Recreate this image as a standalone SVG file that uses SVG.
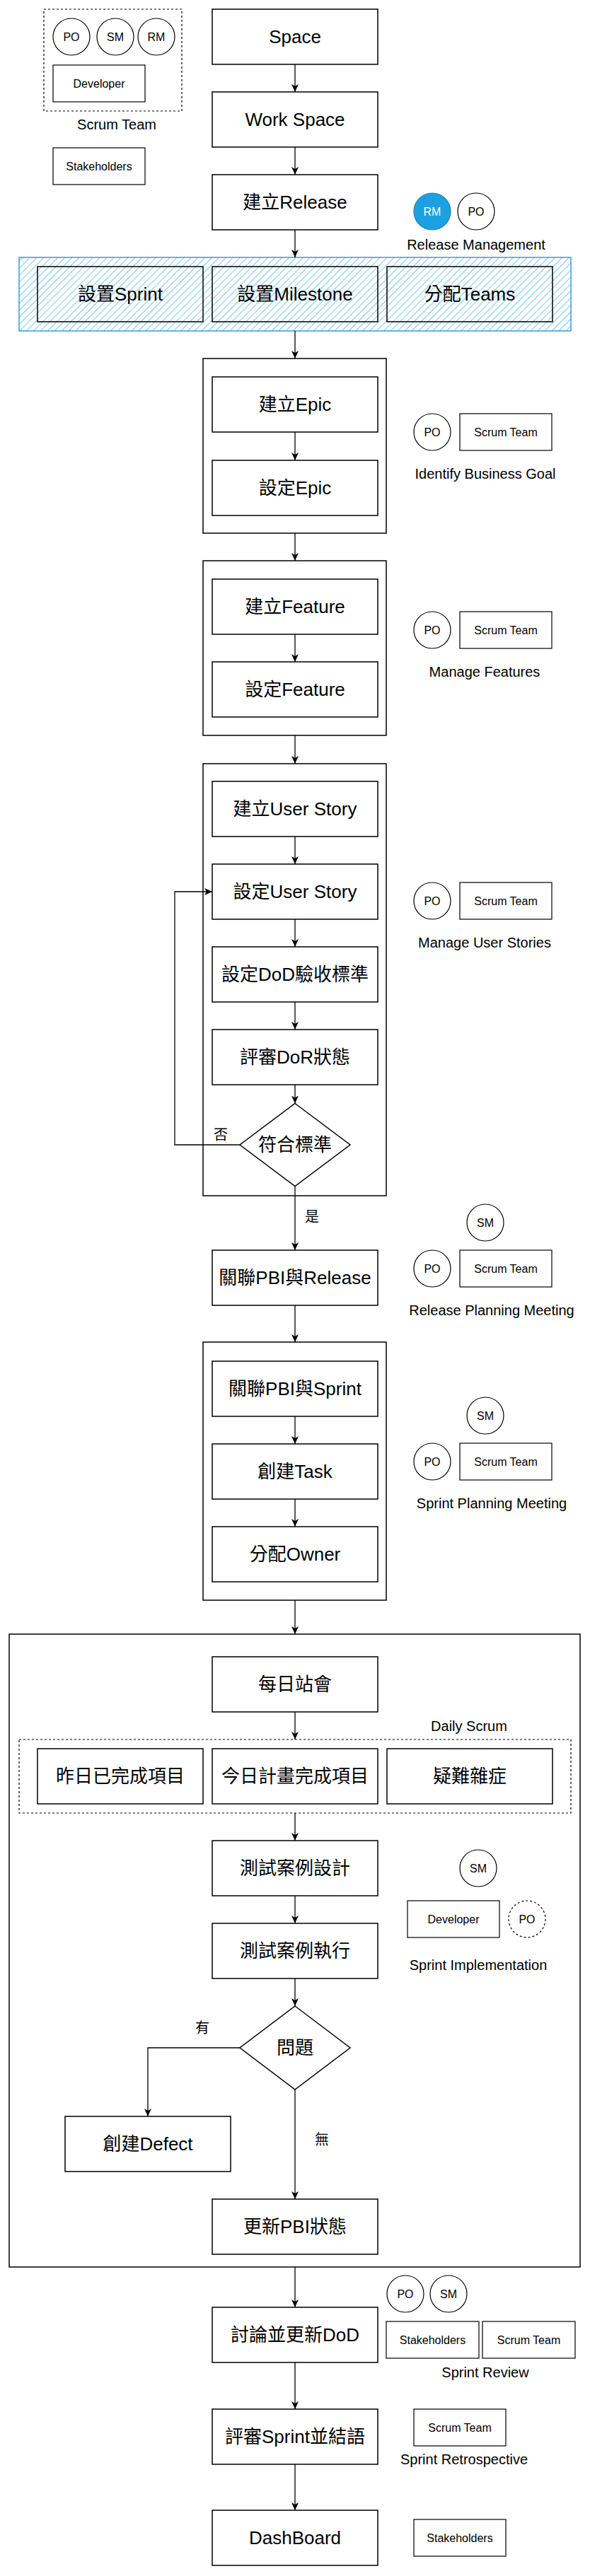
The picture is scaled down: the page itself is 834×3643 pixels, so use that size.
<svg xmlns="http://www.w3.org/2000/svg" width="834" height="3643" viewBox="0 0 834 3643">
<defs>
<marker id="arr" markerWidth="12" markerHeight="10" refX="11" refY="5" orient="auto" markerUnits="userSpaceOnUse">
<path d="M0,0 L11,5 L0,10 L3,5 Z" fill="#000"/>
</marker>
<pattern id="hatch" patternUnits="userSpaceOnUse" width="7" height="7" patternTransform="rotate(45)">
<line x1="0" y1="0" x2="0" y2="7" stroke="#1BA1E2" stroke-width="1.2"/>
</pattern>
<style>
.b{fill:#fff;stroke:#000;stroke-width:1.5}
.o{fill:none;stroke:#000;stroke-width:1.5}
.c{fill:#fff;stroke:#000;stroke-width:1.2}
.s{fill:#fff;stroke:#000;stroke-width:1.2}
.dash{fill:none;stroke:#000;stroke-width:1.2;stroke-dasharray:3 3}
.t{font-family:"Liberation Sans","Noto Sans CJK TC",Arial,sans-serif;font-size:26px;text-anchor:middle;fill:#000}
.m{font-family:"Liberation Sans","Noto Sans CJK TC",Arial,sans-serif;font-size:16px;text-anchor:middle;fill:#000}
.l{font-family:"Liberation Sans","Noto Sans CJK TC",Arial,sans-serif;font-size:20px;text-anchor:middle;fill:#000}
.e{fill:none;stroke:#000;stroke-width:1.3}
</style>
</defs>

<!-- Legend -->
<g id="scrum-team-legend">
<rect class="dash" x="62" y="13" width="195" height="144"/>
<circle class="c" cx="101" cy="52" r="26"/><text class="m" x="101" y="58">PO</text>
<circle class="c" cx="163" cy="52" r="26"/><text class="m" x="163" y="58">SM</text>
<circle class="c" cx="221" cy="52" r="26"/><text class="m" x="221" y="58">RM</text>
<rect class="s" x="75" y="92" width="130" height="52"/><text class="m" x="140" y="124">Developer</text>
<text class="l" x="165" y="183">Scrum Team</text>
</g>
<g id="stakeholders-legend">
<rect class="s" x="75" y="209" width="130" height="52"/><text class="m" x="140" y="241">Stakeholders</text>
</g>

<!-- Containers -->
<g id="release-setup">
<rect x="27" y="364" width="780" height="104" fill="url(#hatch)" stroke="#1B8FD0" stroke-width="1.3"/>
<rect class="o" x="53" y="377" width="234" height="78"/><text class="t" x="170" y="425">設置Sprint</text>
<rect class="o" x="300" y="377" width="234" height="78"/><text class="t" x="417" y="425">設置Milestone</text>
<rect class="o" x="547" y="377" width="234" height="78"/><text class="t" x="664" y="425">分配Teams</text>
</g>
<g id="epic-group"><rect class="o" x="287" y="507" width="259" height="247" stroke-width="1.2"/></g>
<g id="feature-group"><rect class="o" x="287" y="793" width="259" height="247" stroke-width="1.2"/></g>
<g id="story-group"><rect class="o" x="287" y="1080" width="259" height="611" stroke-width="1.2"/></g>
<g id="sprint-group"><rect class="o" x="287" y="1898" width="259" height="365" stroke-width="1.2"/></g>
<g id="implementation-group"><rect class="o" x="13" y="2311" width="807" height="895" stroke-width="1.5" stroke="#222"/></g>
<g id="daily-scrum-group">
<rect class="dash" x="27" y="2460" width="780" height="104"/>
<text class="l" x="663" y="2448">Daily Scrum</text>
</g>

<!-- Main nodes -->
<g id="space"><rect class="b" x="300" y="13" width="234" height="78"/><text class="t" x="417" y="61">Space</text></g>
<g id="workspace"><rect class="b" x="300" y="130" width="234" height="78"/><text class="t" x="417" y="178">Work Space</text></g>
<g id="create-release"><rect class="b" x="300" y="247" width="234" height="78"/><text class="t" x="417" y="295">建立Release</text></g>
<g id="create-epic"><rect class="b" x="300" y="533" width="234" height="78"/><text class="t" x="417" y="581">建立Epic</text></g>
<g id="set-epic"><rect class="b" x="300" y="651" width="234" height="78"/><text class="t" x="417" y="699">設定Epic</text></g>
<g id="create-feature"><rect class="b" x="300" y="819" width="234" height="78"/><text class="t" x="417" y="867">建立Feature</text></g>
<g id="set-feature"><rect class="b" x="300" y="936" width="234" height="78"/><text class="t" x="417" y="984">設定Feature</text></g>
<g id="create-story"><rect class="b" x="300" y="1105" width="234" height="78"/><text class="t" x="417" y="1153">建立User Story</text></g>
<g id="set-story"><rect class="b" x="300" y="1222" width="234" height="78"/><text class="t" x="417" y="1270">設定User Story</text></g>
<g id="set-dod"><rect class="b" x="300" y="1339" width="234" height="78"/><text class="t" x="417" y="1387">設定DoD驗收標準</text></g>
<g id="review-dor"><rect class="b" x="300" y="1456" width="234" height="78"/><text class="t" x="417" y="1504">評審DoR狀態</text></g>
<g id="meets-criteria"><polygon class="b" points="417,1560.5 495,1619 417,1677.5 339,1619"/><text class="t" x="417" y="1628">符合標準</text></g>
<g id="link-release"><rect class="b" x="300" y="1768" width="234" height="78"/><text class="t" x="417" y="1816">關聯PBI與Release</text></g>
<g id="link-sprint"><rect class="b" x="300" y="1925" width="234" height="78"/><text class="t" x="417" y="1973">關聯PBI與Sprint</text></g>
<g id="create-task"><rect class="b" x="300" y="2042" width="234" height="78"/><text class="t" x="417" y="2090">創建Task</text></g>
<g id="assign-owner"><rect class="b" x="300" y="2159" width="234" height="78"/><text class="t" x="417" y="2207">分配Owner</text></g>
<g id="daily-standup"><rect class="b" x="300" y="2343" width="234" height="78"/><text class="t" x="417" y="2391">每日站會</text></g>
<g id="yesterday"><rect class="b" x="53" y="2473" width="234" height="78"/><text class="t" x="170" y="2521">昨日已完成項目</text></g>
<g id="today"><rect class="b" x="300" y="2473" width="234" height="78"/><text class="t" x="417" y="2521">今日計畫完成項目</text></g>
<g id="issues"><rect class="b" x="547" y="2473" width="234" height="78"/><text class="t" x="664" y="2521">疑難雜症</text></g>
<g id="test-design"><rect class="b" x="300" y="2603" width="234" height="78"/><text class="t" x="417" y="2651">測試案例設計</text></g>
<g id="test-exec"><rect class="b" x="300" y="2720" width="234" height="78"/><text class="t" x="417" y="2768">測試案例執行</text></g>
<g id="problem"><polygon class="b" points="417,2837 495,2896 417,2955 339,2896"/><text class="t" x="417" y="2905">問題</text></g>
<g id="create-defect"><rect class="b" x="92" y="2993" width="234" height="78"/><text class="t" x="209" y="3041">創建Defect</text></g>
<g id="update-pbi"><rect class="b" x="300" y="3110" width="234" height="78"/><text class="t" x="417" y="3158">更新PBI狀態</text></g>
<g id="update-dod"><rect class="b" x="300" y="3263" width="234" height="78"/><text class="t" x="417" y="3311">討論並更新DoD</text></g>
<g id="retro"><rect class="b" x="300" y="3407" width="234" height="78"/><text class="t" x="417" y="3455">評審Sprint並結語</text></g>
<g id="dashboard"><rect class="b" x="300" y="3550" width="234" height="78"/><text class="t" x="417" y="3598">DashBoard</text></g>

<!-- Role annotations -->
<g id="release-management">
<circle cx="611" cy="299" r="26" fill="#1BA1E2" stroke="#1780C0" stroke-width="1.2"/><text class="m" x="611" y="305" fill="#fff" style="fill:#fff">RM</text>
<circle class="c" cx="673" cy="299" r="26"/><text class="m" x="673" y="305">PO</text>
<text class="l" x="673" y="353">Release Management</text>
</g>
<g id="identify-goal">
<circle class="c" cx="611" cy="611" r="26"/><text class="m" x="611" y="617">PO</text>
<rect class="s" x="650" y="585" width="130" height="52"/><text class="m" x="715" y="617">Scrum Team</text>
<text class="l" x="686" y="677">Identify Business Goal</text>
</g>
<g id="manage-features">
<circle class="c" cx="611" cy="891" r="26"/><text class="m" x="611" y="897">PO</text>
<rect class="s" x="650" y="865" width="130" height="52"/><text class="m" x="715" y="897">Scrum Team</text>
<text class="l" x="685" y="957">Manage Features</text>
</g>
<g id="manage-stories">
<circle class="c" cx="611" cy="1274" r="26"/><text class="m" x="611" y="1280">PO</text>
<rect class="s" x="650" y="1248" width="130" height="52"/><text class="m" x="715" y="1280">Scrum Team</text>
<text class="l" x="685" y="1340">Manage User Stories</text>
</g>
<g id="release-planning">
<circle class="c" cx="686" cy="1729" r="26"/><text class="m" x="686" y="1735">SM</text>
<circle class="c" cx="611" cy="1794" r="26"/><text class="m" x="611" y="1800">PO</text>
<rect class="s" x="650" y="1768" width="130" height="52"/><text class="m" x="715" y="1800">Scrum Team</text>
<text class="l" x="695" y="1860">Release Planning Meeting</text>
</g>
<g id="sprint-planning">
<circle class="c" cx="686" cy="2002" r="26"/><text class="m" x="686" y="2008">SM</text>
<circle class="c" cx="611" cy="2067" r="26"/><text class="m" x="611" y="2073">PO</text>
<rect class="s" x="650" y="2041" width="130" height="52"/><text class="m" x="715" y="2073">Scrum Team</text>
<text class="l" x="695" y="2133">Sprint Planning Meeting</text>
</g>
<g id="sprint-implementation">
<circle class="c" cx="676" cy="2642" r="26"/><text class="m" x="676" y="2648">SM</text>
<rect class="s" x="576" y="2688" width="130" height="52"/><text class="m" x="641" y="2720">Developer</text>
<circle cx="745" cy="2714" r="26" fill="#fff" stroke="#000" stroke-width="1.2" stroke-dasharray="3 3"/><text class="m" x="745" y="2720">PO</text>
<text class="l" x="676" y="2786">Sprint Implementation</text>
</g>
<g id="sprint-review">
<circle class="c" cx="573" cy="3244" r="26"/><text class="m" x="573" y="3250">PO</text>
<circle class="c" cx="634" cy="3244" r="26"/><text class="m" x="634" y="3250">SM</text>
<rect class="s" x="546" y="3283" width="131" height="52"/><text class="m" x="611.5" y="3315">Stakeholders</text>
<rect class="s" x="682" y="3283" width="131" height="52"/><text class="m" x="747.5" y="3315">Scrum Team</text>
<text class="l" x="686" y="3362">Sprint Review</text>
</g>
<g id="sprint-retrospective">
<rect class="s" x="585" y="3407" width="130" height="52"/><text class="m" x="650" y="3439">Scrum Team</text>
<text class="l" x="656" y="3485">Sprint Retrospective</text>
</g>
<g id="dashboard-audience">
<rect class="s" x="585" y="3563" width="130" height="52"/><text class="m" x="650" y="3595">Stakeholders</text>
</g>

<!-- Connectors -->
<g id="connectors">
<line class="e" x1="417" y1="91" x2="417" y2="130" marker-end="url(#arr)"/>
<line class="e" x1="417" y1="208" x2="417" y2="247" marker-end="url(#arr)"/>
<line class="e" x1="417" y1="325" x2="417" y2="364" marker-end="url(#arr)"/>
<line class="e" x1="417" y1="468" x2="417" y2="507" marker-end="url(#arr)"/>
<line class="e" x1="417" y1="611" x2="417" y2="651" marker-end="url(#arr)"/>
<line class="e" x1="417" y1="754" x2="417" y2="793" marker-end="url(#arr)"/>
<line class="e" x1="417" y1="897" x2="417" y2="936" marker-end="url(#arr)"/>
<line class="e" x1="417" y1="1040" x2="417" y2="1080" marker-end="url(#arr)"/>
<line class="e" x1="417" y1="1183" x2="417" y2="1222" marker-end="url(#arr)"/>
<line class="e" x1="417" y1="1300" x2="417" y2="1339" marker-end="url(#arr)"/>
<line class="e" x1="417" y1="1417" x2="417" y2="1456" marker-end="url(#arr)"/>
<line class="e" x1="417" y1="1534" x2="417" y2="1560.5" marker-end="url(#arr)"/>
<polyline class="e" points="339,1619 247,1619 247,1261 300,1261" marker-end="url(#arr)"/>
<text class="l" x="312" y="1612">否</text>
<line class="e" x1="417" y1="1677.5" x2="417" y2="1768" marker-end="url(#arr)"/>
<text class="l" x="441" y="1728">是</text>
<line class="e" x1="417" y1="1846" x2="417" y2="1898" marker-end="url(#arr)"/>
<line class="e" x1="417" y1="2003" x2="417" y2="2042" marker-end="url(#arr)"/>
<line class="e" x1="417" y1="2120" x2="417" y2="2159" marker-end="url(#arr)"/>
<line class="e" x1="417" y1="2263" x2="417" y2="2311" marker-end="url(#arr)"/>
<line class="e" x1="417" y1="2421" x2="417" y2="2460" marker-end="url(#arr)"/>
<line class="e" x1="417" y1="2564" x2="417" y2="2603" marker-end="url(#arr)"/>
<line class="e" x1="417" y1="2681" x2="417" y2="2720" marker-end="url(#arr)"/>
<line class="e" x1="417" y1="2798" x2="417" y2="2837" marker-end="url(#arr)"/>
<polyline class="e" points="339,2896 209,2896 209,2993" marker-end="url(#arr)"/>
<text class="l" x="286" y="2875">有</text>
<line class="e" x1="417" y1="2955" x2="417" y2="3110" marker-end="url(#arr)"/>
<text class="l" x="455" y="3033">無</text>
<line class="e" x1="417" y1="3206" x2="417" y2="3263" marker-end="url(#arr)"/>
<line class="e" x1="417" y1="3341" x2="417" y2="3407" marker-end="url(#arr)"/>
<line class="e" x1="417" y1="3485" x2="417" y2="3550" marker-end="url(#arr)"/>
</g>
</svg>
